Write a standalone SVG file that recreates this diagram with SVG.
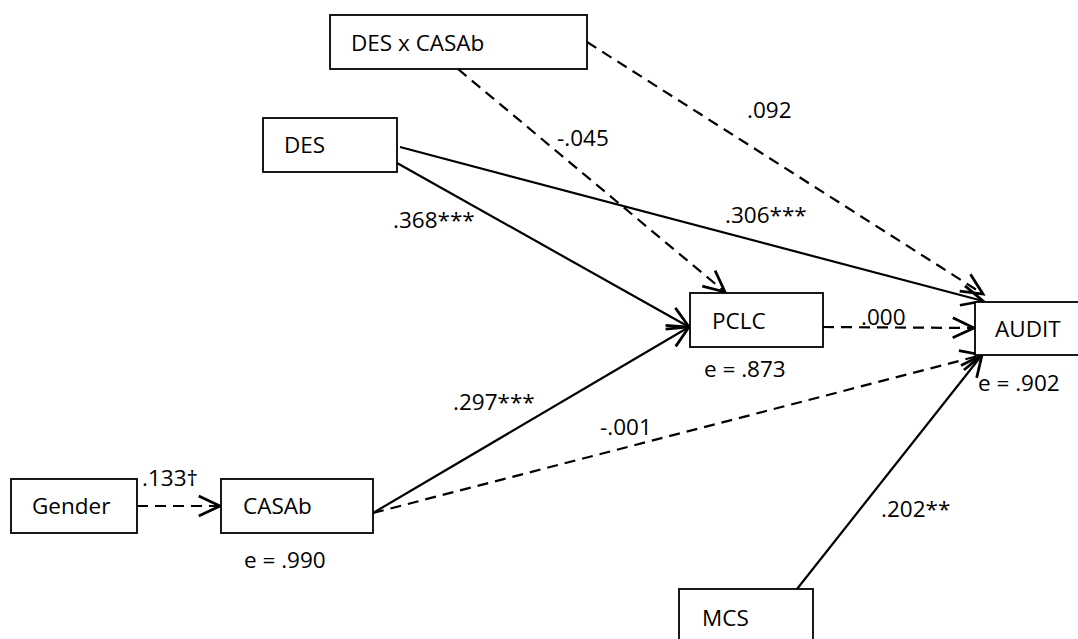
<svg xmlns="http://www.w3.org/2000/svg" width="1078" height="639" viewBox="0 0 1078 639">
<style>
  .box { fill: #fff; stroke: #000; stroke-width: 1.8; }
  .t { font-family: "Open Sans", "Liberation Sans", Arial, sans-serif; font-size: 22.5px; fill: #000; }
  .solid { fill: none; stroke: #000; stroke-width: 2.2; }
  .dash { fill: none; stroke: #000; stroke-width: 2.2; stroke-dasharray: 11 7; }
</style>
<defs>
  <marker id="arr" markerUnits="userSpaceOnUse" markerWidth="30" markerHeight="30" refX="0" refY="0" viewBox="-20 -12 24 24" orient="auto" overflow="visible">
    <path d="M-17,-8 L0,0 L-17,8" fill="none" stroke="#000" stroke-width="2.2" stroke-dasharray="none"/>
  </marker>
</defs>
<rect width="1078" height="639" fill="#fff"/>

<g id="connectors">
  <line class="dash" x1="458" y1="69" x2="725" y2="292" marker-end="url(#arr)"/>
  <line class="dash" x1="587" y1="42" x2="983" y2="294" marker-end="url(#arr)"/>
  <line class="solid" x1="400" y1="147" x2="983" y2="301" marker-end="url(#arr)"/>
  <line class="solid" x1="397" y1="163" x2="689" y2="327" marker-end="url(#arr)"/>
  <line class="solid" x1="373" y1="513" x2="689" y2="327" marker-end="url(#arr)"/>
  <line class="dash" x1="373" y1="513" x2="982" y2="355" marker-end="url(#arr)"/>
  <line class="dash" x1="823" y1="327" x2="974" y2="328" marker-end="url(#arr)"/>
  <line class="dash" x1="137" y1="506" x2="220" y2="506" marker-end="url(#arr)"/>
  <line class="solid" x1="797" y1="589" x2="982" y2="355" marker-end="url(#arr)"/>
</g>

<g id="labels">
  <text class="t" x="557" y="146">-.045</text>
  <text class="t" x="747" y="118">.092</text>
  <text class="t" x="393" y="228">.368***</text>
  <text class="t" x="725" y="223">.306***</text>
  <text class="t" x="861" y="325">.000</text>
  <text class="t" x="453" y="410">.297***</text>
  <text class="t" x="600" y="435">-.001</text>
  <text class="t" x="881" y="517">.202**</text>
  <text class="t" x="142" y="486">.133†</text>
</g>

<g id="node-desxcasab">
  <rect class="box" x="330" y="15" width="257" height="54"/>
  <text class="t" x="351" y="51">DES x CASAb</text>
</g>
<g id="node-des">
  <rect class="box" x="263" y="118" width="134" height="54"/>
  <text class="t" x="284" y="153">DES</text>
</g>
<g id="node-pclc">
  <rect class="box" x="690" y="293" width="133" height="54"/>
  <text class="t" x="712" y="329">PCLC</text>
  <text class="t" x="704" y="377">e = .873</text>
</g>
<g id="node-audit">
  <rect class="box" x="975" y="302" width="120" height="53"/>
  <text class="t" x="995" y="337">AUDIT</text>
  <text class="t" x="978" y="391">e = .902</text>
</g>
<g id="node-gender">
  <rect class="box" x="11" y="479" width="126" height="54"/>
  <text class="t" x="32" y="514">Gender</text>
</g>
<g id="node-casab">
  <rect class="box" x="221" y="479" width="152" height="54"/>
  <text class="t" x="243" y="514">CASAb</text>
  <text class="t" x="244" y="568">e = .990</text>
</g>
<g id="node-mcs">
  <rect class="box" x="679" y="589" width="134" height="60"/>
  <text class="t" x="702" y="626">MCS</text>
</g>
</svg>
